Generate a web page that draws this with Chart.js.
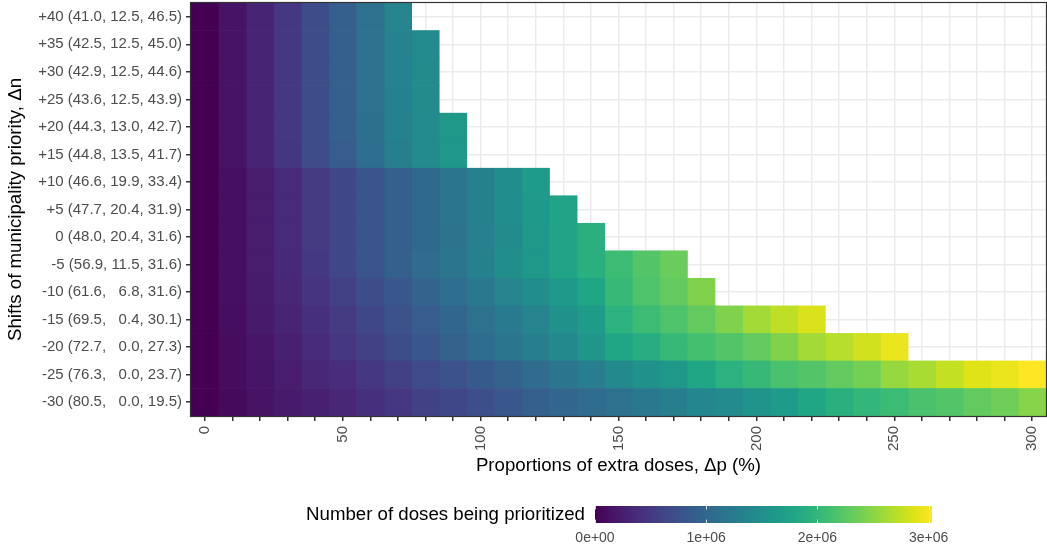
<!DOCTYPE html>
<html>
<head>
<meta charset="utf-8">
<script src="https://cdn.jsdelivr.net/npm/chart.js@4.4.1/dist/chart.umd.min.js"></script>
<style>
  html, body { margin: 0; padding: 0; background: #fff; overflow: hidden; }
  #heat { position: absolute; left: 0; top: 0; }
  #bar { position: absolute; left: 0; top: 490px; }
</style>
</head>
<body>
<canvas id="heat" width="1047" height="552"></canvas>
<canvas id="bar" width="1047" height="62"></canvas>
<script>
// rows, top to bottom: shift of municipality priority (with the three shares)
var rowLabels = [
  '+40 (41.0, 12.5, 46.5)',
  '+35 (42.5, 12.5, 45.0)',
  '+30 (42.9, 12.5, 44.6)',
  '+25 (43.6, 12.5, 43.9)',
  '+20 (44.3, 13.0, 42.7)',
  '+15 (44.8, 13.5, 41.7)',
  '+10 (46.6, 19.9, 33.4)',
  '+5 (47.7, 20.4, 31.9)',
  '0 (48.0, 20.4, 31.6)',
  '-5 (56.9, 11.5, 31.6)',
  '-10 (61.6,   6.8, 31.6)',
  '-15 (69.5,   0.4, 30.1)',
  '-20 (72.7,   0.0, 27.3)',
  '-25 (76.3,   0.0, 23.7)',
  '-30 (80.5,   0.0, 19.5)'
]

// columns: proportion of extra doses (%)
var extraDoses = [0, 10, 20, 30, 40, 50, 60, 70, 80, 90, 100, 110, 120, 130, 140, 150,
  160, 170, 180, 190, 200, 210, 220, 230, 240, 250, 260, 270, 280, 290, 300]
var labelledTicks = [0, 50, 100, 150, 200, 250, 300]

// doses being prioritized, millions, one list per row (row stops where the list ends)
var dosesByRow = [
  [0, 0.15, 0.30, 0.48, 0.70, 0.91, 1.12, 1.36],
  [0, 0.15, 0.30, 0.48, 0.70, 0.91, 1.12, 1.34, 1.45],
  [0, 0.15, 0.30, 0.48, 0.70, 0.91, 1.12, 1.34, 1.46],
  [0, 0.15, 0.30, 0.48, 0.70, 0.91, 1.12, 1.33, 1.46],
  [0, 0.15, 0.30, 0.48, 0.70, 0.91, 1.11, 1.33, 1.45, 1.61],
  [0, 0.15, 0.30, 0.47, 0.69, 0.89, 1.09, 1.30, 1.43, 1.60],
  [0, 0.12, 0.24, 0.36, 0.52, 0.64, 0.79, 0.91, 1.03, 1.18, 1.33, 1.48, 1.67],
  [0, 0.12, 0.24, 0.36, 0.52, 0.64, 0.79, 0.91, 1.03, 1.17, 1.32, 1.47, 1.63, 1.76],
  [0, 0.12, 0.24, 0.36, 0.52, 0.64, 0.79, 0.91, 1.03, 1.16, 1.31, 1.46, 1.61, 1.76, 1.91],
  [0, 0.12, 0.24, 0.34, 0.49, 0.64, 0.79, 0.91, 1.06, 1.18, 1.33, 1.48, 1.61, 1.76, 1.91, 2.06, 2.21, 2.33],
  [0, 0.12, 0.23, 0.33, 0.45, 0.58, 0.70, 0.82, 0.97, 1.09, 1.21, 1.36, 1.48, 1.64, 1.79, 2.03, 2.18, 2.30, 2.45],
  [0, 0.106, 0.21, 0.30, 0.42, 0.52, 0.64, 0.76, 0.88, 1.00, 1.12, 1.24, 1.36, 1.52, 1.67, 1.94, 2.06, 2.18, 2.30,
    2.45, 2.61, 2.73, 2.85],
  [0, 0.09, 0.18, 0.27, 0.36, 0.48, 0.58, 0.70, 0.82, 0.94, 1.06, 1.18, 1.30, 1.42, 1.58, 1.79, 1.88, 2.03, 2.12,
    2.21, 2.30, 2.45, 2.61, 2.70, 2.82, 2.94],
  [0, 0.09, 0.17, 0.24, 0.33, 0.39, 0.48, 0.58, 0.67, 0.76, 0.85, 0.94, 1.06, 1.18, 1.27, 1.42, 1.52, 1.61, 1.79,
    1.94, 2.03, 2.15, 2.21, 2.30, 2.39, 2.55, 2.64, 2.76, 2.88, 2.94, 3.03],
  [0, 0.076, 0.15, 0.21, 0.27, 0.33, 0.42, 0.48, 0.58, 0.64, 0.73, 0.82, 0.91, 0.99, 1.06, 1.12, 1.21, 1.30, 1.39,
    1.45, 1.55, 1.67, 1.79, 1.91, 2.00, 2.06, 2.15, 2.21, 2.30, 2.36, 2.48]
]

var legendTitle = 'Number of doses being prioritized'
var colorbarTicks = [0, 1, 2, 3]
var colorbarLabels = ['0e+00', '1e+06', '2e+06', '3e+06']

var viridis = ['#440154', '#471365', '#482475', '#463480', '#414487', '#3b528b', '#355f8d',
  '#2f6c8e', '#2a788e', '#25848e', '#21918c', '#1e9c89', '#22a884', '#2fb47c', '#44bf70',
  '#5ec962', '#7ad151', '#9bd93c', '#bddf26', '#dfe318', '#fde725']

Chart.defaults.font.family = '"Liberation Sans", Arial, sans-serif'

var colorMax = Math.max.apply(null, dosesByRow.map(function (r) { return Math.max.apply(null, r) }))

function hexRgb(h) {
  return [parseInt(h.substr(1, 2), 16), parseInt(h.substr(3, 2), 16), parseInt(h.substr(5, 2), 16)]
}

function viridisColor(v) {
  var t = Math.min(1, Math.max(0, v / colorMax)) * (viridis.length - 1)
  var i = Math.min(viridis.length - 2, Math.floor(t))
  var f = t - i
  var a = hexRgb(viridis[i]), b = hexRgb(viridis[i + 1])
  return 'rgb(' + Math.round(a[0] + (b[0] - a[0]) * f) + ',' + Math.round(a[1] + (b[1] - a[1]) * f) + ',' +
    Math.round(a[2] + (b[2] - a[2]) * f) + ')'
}

// one floating-bar dataset per column, each tile covers its 10-point step
var half = (extraDoses[1] - extraDoses[0]) / 2
var datasets = extraDoses.map(function (x, k) {
  return {
    data: dosesByRow.map(function (row) { return k < row.length ? [x - half, x + half] : null }),
    backgroundColor: dosesByRow.map(function (row) { return k < row.length ? viridisColor(row[k]) : 'rgba(0,0,0,0)' })
  }
})

var panelBorder = {
  id: 'panelBorder',
  afterDatasetsDraw: function (chart) {
    var a = chart.chartArea, ctx = chart.ctx
    ctx.save()
    ctx.strokeStyle = '#333333'
    ctx.lineWidth = 1.2
    ctx.strokeRect(a.left - 0.5, a.top - 0.5, a.right - a.left + 1, a.bottom - a.top + 1)
    ctx.restore()
  }
}

// short white marks on the top and bottom edge of the colour bar
var barTicks = {
  id: 'barTicks',
  afterDatasetsDraw: function (chart) {
    var a = chart.chartArea, ctx = chart.ctx, xs = chart.scales.x
    var len = (a.bottom - a.top) / 5
    ctx.save()
    ctx.strokeStyle = 'rgba(255,255,255,0.85)'
    ctx.lineWidth = 1
    colorbarTicks.forEach(function (v) {
      var px = Math.round(xs.getPixelForValue(v)) + 0.5
      ctx.beginPath()
      ctx.moveTo(px, a.top); ctx.lineTo(px, a.top + len)
      ctx.moveTo(px, a.bottom - len); ctx.lineTo(px, a.bottom)
      ctx.stroke()
    })
    ctx.restore()
  }
}

new Chart('heat', {
  type: 'bar',
  data: { labels: rowLabels, datasets: datasets },
  options: {
    indexAxis: 'y',
    responsive: false,
    animation: false,
    devicePixelRatio: 1,
    layout: { padding: { top: 3, right: 1, bottom: 72, left: 0 } },
    plugins: { legend: { display: false }, tooltip: { enabled: false } },
    datasets: { bar: { grouped: false, barPercentage: 1, categoryPercentage: 1, borderWidth: 0 } },
    scales: {
      x: {
        type: 'linear', min: extraDoses[0] - half, max: extraDoses[extraDoses.length - 1] + half,
        grid: { color: '#ebebeb', lineWidth: 1.5, tickColor: '#333333', tickLength: 5 },
        border: { display: false },
        ticks: {
          autoSkip: false, minRotation: 90, maxRotation: 90,
          padding: 5, color: '#4d4d4d', font: { size: 15 },
          callback: function (v) { return labelledTicks.indexOf(v) >= 0 ? String(v) : '' }
        },
        title: { display: true, text: 'Proportions of extra doses, Δp (%)', color: '#000', font: { size: 18.67 }, padding: { top: 4, bottom: 3 } },
        afterBuildTicks: function (s) { s.ticks = extraDoses.map(function (v) { return { value: v } }) },
        afterFit: function (s) { s.height = 64; s.paddingLeft = 0; s.paddingRight = 0 }
      },
      y: {
        grid: { color: '#ebebeb', lineWidth: 1.5, offset: false, tickColor: '#333333', tickLength: 5 },
        border: { display: false },
        ticks: { color: '#4d4d4d', font: { size: 15 }, padding: 4 },
        title: { display: true, text: 'Shifts of municipality priority, Δn', color: '#000', font: { size: 18.67 }, padding: { top: 5, bottom: 4 } },
        afterFit: function (s) { s.width = 191; s.paddingTop = 0; s.paddingBottom = 0 }
      }
    }
  },
  plugins: [panelBorder]
})

// colour bar legend
new Chart('bar', {
  type: 'bar',
  data: {
    labels: [legendTitle],
    datasets: [{
      data: [[0, colorMax]],
      borderWidth: 0,
      backgroundColor: function (c) {
        var area = c.chart.chartArea
        if (!area) return viridis[0]
        var g = c.chart.ctx.createLinearGradient(area.left, 0, area.right, 0)
        viridis.forEach(function (col, i) { g.addColorStop(i / (viridis.length - 1), col) })
        return g
      }
    }]
  },
  options: {
    indexAxis: 'y',
    responsive: false,
    animation: false,
    devicePixelRatio: 1,
    layout: { padding: { top: 16, right: 115, bottom: 0, left: 0 } },
    plugins: { legend: { display: false }, tooltip: { enabled: false } },
    datasets: { bar: { barPercentage: 1, categoryPercentage: 1 } },
    scales: {
      x: {
        type: 'linear', min: 0, max: colorMax,
        grid: { display: false, drawTicks: false },
        border: { display: false },
        ticks: {
          padding: 7, color: '#4d4d4d', font: { size: 14 },
          callback: function (v) { return colorbarLabels[colorbarTicks.indexOf(v)] }
        },
        afterBuildTicks: function (s) { s.ticks = colorbarTicks.map(function (v) { return { value: v } }) },
        afterFit: function (s) { s.height = 29; s.paddingLeft = 0; s.paddingRight = 0 }
      },
      y: {
        grid: { display: false, drawTicks: false },
        border: { display: false },
        ticks: { color: '#000', font: { size: 18.67 }, padding: 10 },
        afterFit: function (s) { s.width = 595; s.paddingTop = 0; s.paddingBottom = 0 }
      }
    }
  },
  plugins: [barTicks]
})
</script>
</body>
</html>
